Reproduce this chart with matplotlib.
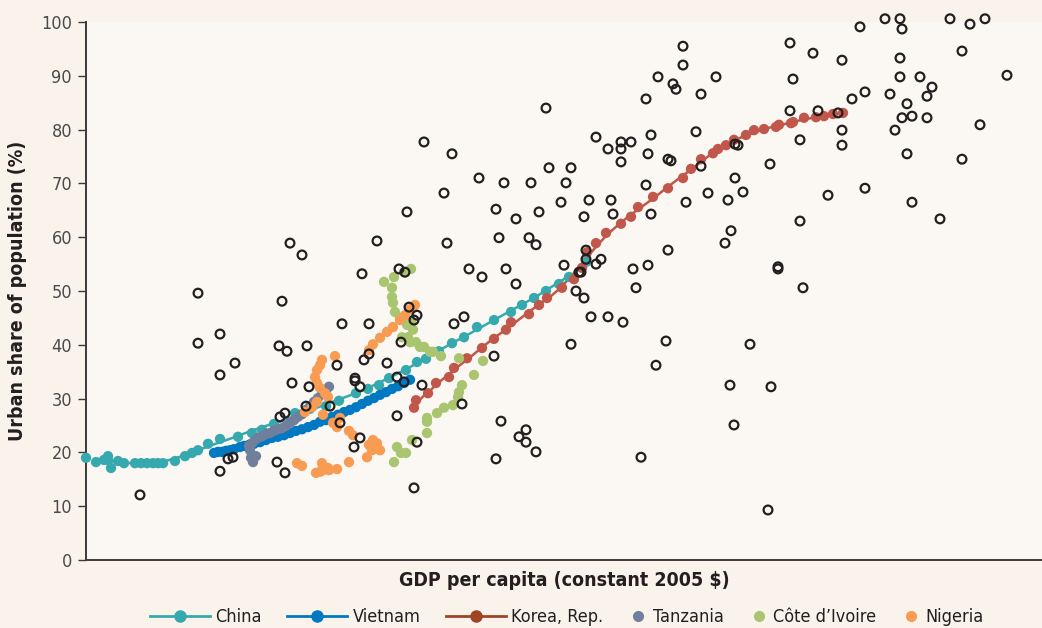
import numpy as np
import pandas as pd
import matplotlib
matplotlib.use('Agg')
import matplotlib.pyplot as plt
from matplotlib import font_manager
from matplotlib.lines import Line2D

# the original uses a condensed face; take one if the machine has it
narrow = [f for f in font_manager.fontManager.ttflist
          if str(f.stretch) in ('condensed', 'semi-condensed', 'extra-condensed')
          or 'Narrow' in f.name or 'Condensed' in f.name]
if narrow:
    plt.rcParams['font.family'] = [narrow[0].name, 'DejaVu Sans']
    plt.rcParams['font.stretch'] = narrow[0].stretch
    fs_tick, fs_lab, fs_leg = 13, 14, 13
else:
    plt.rcParams['font.family'] = ['Roboto', 'DejaVu Sans']
    fs_tick, fs_lab, fs_leg = 11.5, 12, 11.5

# x = log GDP per capita (index, the axis is unlabelled), y = urban share (%)
other_x = [5.54, 6.12, 6.12, 6.34, 6.34, 6.49, 6.34, 6.42, 6.47, 7.04, 7.16, 6.96, 6.93, 7.01, 7.21,
           7.56, 7.83, 7.06, 7.23, 7.51, 7.69, 7.69, 7.74, 7.78, 7.83, 8.01, 8.11, 8.18, 8.36, 7.44,
           7.20, 6.94, 6.99, 7.54, 8.11, 7.74, 7.68, 6.91, 6.99, 8.28, 8.15, 8.23, 8.31, 8.21, 7.91,
           7.76, 8.13, 8.19, 9.60, 8.38, 8.66, 10.10, 10.22, 10.35, 10.35, 10.45, 10.35, 10.65, 10.62, 10.82,
           10.85, 10.60, 10.72, 10.87, 10.90, 10.97, 10.97, 11.15, 11.30, 11.10, 11.15, 11.22, 11.42, 11.45, 11.39,
           11.49, 11.49, 9.63, 9.85, 9.80, 8.93, 9.18, 9.45, 8.58, 9.75, 10.03, 10.25, 10.60, 11.00, 9.10,
           9.30, 9.53, 9.98, 10.27, 10.65, 8.61, 9.13, 9.43, 9.50, 8.83, 8.96, 9.20, 9.30, 9.78, 10.00,
           10.00, 10.10, 10.15, 9.93, 9.95, 10.47, 10.62, 10.82, 10.50, 9.90, 9.98, 10.05, 10.22, 10.37, 9.85,
           10.80, 10.70, 11.44, 11.48, 8.28, 8.68, 8.78, 9.08, 8.76, 9.15, 9.40, 9.33, 9.40, 9.50, 9.10,
           10.55, 8.31, 12.74, 12.99, 13.14, 13.16, 13.64, 13.84, 13.99, 12.04, 12.27, 12.56, 13.14, 13.76, 14.21,
           12.07, 13.14, 13.34, 13.46, 13.41, 12.79, 12.66, 13.04, 13.21, 13.16, 13.26, 13.41, 13.09, 12.04, 12.32,
           12.52, 12.56, 12.56, 12.14, 11.52, 11.84, 13.21, 13.76, 13.94, 11.57, 12.42, 12.79, 13.26, 13.54, 12.14,
           11.92, 11.92, 12.17, 11.64, 11.85, 11.82]
other_y = [12.1, 49.6, 40.3, 42.0, 34.4, 36.6, 16.5, 18.8, 19.1, 58.9, 56.7, 48.1, 39.8, 38.8, 39.8,
           43.9, 43.9, 32.9, 32.2, 36.2, 33.8, 33.3, 32.2, 37.2, 38.3, 36.6, 34.0, 33.1, 32.5, 28.6,
           28.6, 26.6, 27.3, 25.5, 26.8, 22.7, 21.0, 18.2, 16.2, 13.4, 40.5, 47.0, 45.5, 64.7, 59.3,
           53.2, 54.1, 53.5, 84.0, 77.7, 75.5, 78.6, 76.4, 77.7, 76.4, 77.7, 74.0, 79.0, 75.5, 74.5,
           74.2, 85.7, 89.8, 88.5, 87.5, 95.5, 92.0, 86.6, 89.8, 79.6, 73.2, 68.2, 66.9, 61.2, 58.9,
           77.3, 71.0, 72.9, 72.9, 70.1, 71.0, 70.1, 70.1, 68.2, 66.5, 66.9, 66.9, 69.7, 66.5, 65.2,
           63.4, 64.7, 63.8, 64.3, 64.3, 58.9, 59.9, 59.9, 58.6, 54.1, 52.6, 54.1, 51.3, 54.8, 57.6,
           55.9, 55.0, 55.9, 53.5, 53.5, 54.1, 54.8, 57.6, 50.6, 50.0, 48.7, 45.2, 45.2, 44.2, 40.1,
           40.7, 36.2, 32.5, 25.1, 44.6, 43.9, 45.2, 37.9, 29.0, 25.8, 24.2, 22.9, 21.9, 20.1, 18.8,
           19.1, 21.9, 99.1, 100.6, 100.6, 98.7, 100.6, 99.6, 100.6, 96.1, 94.2, 92.9, 93.3, 94.6, 90.1,
           89.4, 89.8, 89.8, 87.9, 86.2, 87.0, 85.7, 86.6, 84.8, 82.2, 82.5, 82.2, 79.9, 83.5, 83.5,
           83.1, 79.9, 77.1, 78.1, 77.1, 73.6, 75.5, 74.5, 80.9, 68.4, 67.8, 69.1, 66.5, 63.4, 63.0,
           54.5, 54.1, 50.6, 40.1, 32.2, 9.3]

china_x = [5.00, 5.10, 5.18, 5.22, 5.22, 5.25, 5.32, 5.38, 5.49, 5.55, 5.61, 5.67, 5.72, 5.77, 5.89,
           5.99, 6.06, 6.12, 6.22, 6.34, 6.52, 6.66, 6.76, 6.88, 7.09, 7.24, 7.40, 7.53, 7.70, 7.82,
           7.93, 8.03, 8.20, 8.31, 8.40, 8.53, 8.66, 8.78, 8.91, 9.08, 9.25, 9.36, 9.48, 9.60, 9.73,
           9.83, 10.00]
china_y = [19.0, 18.2, 18.6, 18.6, 19.3, 17.1, 18.4, 18.0, 18.0, 18.0, 18.0, 18.0, 18.0, 18.0, 18.4,
           19.3, 19.9, 20.4, 21.6, 22.5, 22.9, 23.6, 24.2, 25.3, 27.3, 28.1, 28.6, 29.6, 31.0, 31.8,
           32.5, 33.8, 35.3, 36.8, 37.4, 38.8, 40.3, 41.4, 43.3, 44.6, 46.1, 47.4, 48.7, 50.0, 51.3,
           52.6, 55.4]

vietnam_x = [6.28, 6.32, 6.36, 6.40, 6.44, 6.48, 6.54, 6.58, 6.63, 6.68, 6.74, 6.80, 6.86, 6.92, 6.98,
             7.04, 7.10, 7.16, 7.22, 7.28, 7.34, 7.40, 7.46, 7.52, 7.58, 7.64, 7.70, 7.76, 7.82, 7.88,
             7.94, 8.00, 8.06, 8.12, 8.18, 8.24]
vietnam_y = [19.9, 20.1, 20.1, 20.3, 20.4, 20.6, 21.0, 21.2, 21.4, 21.6, 21.9, 22.3, 22.7, 22.9, 23.2,
             23.6, 24.0, 24.3, 24.7, 25.1, 25.7, 26.0, 26.6, 27.0, 27.5, 27.9, 28.4, 29.0, 29.6, 30.1,
             30.7, 31.2, 31.8, 32.3, 32.9, 33.5]

korea_x = [8.28, 8.30, 8.42, 8.50, 8.63, 8.68, 8.81, 8.96, 9.08, 9.20, 9.25, 9.43, 9.53, 9.61, 9.76,
           9.88, 9.96, 10.01, 10.10, 10.20, 10.35, 10.45, 10.52, 10.67, 10.82, 10.97, 11.05, 11.15, 11.27, 11.32,
           11.40, 11.48, 11.60, 11.68, 11.78, 11.90, 11.93, 12.05, 12.07, 12.18, 12.30, 12.38, 12.47, 12.57]
korea_y = [28.3, 29.7, 31.0, 32.9, 34.0, 35.7, 37.5, 39.4, 41.1, 42.8, 44.2, 45.7, 47.4, 48.7, 50.6,
           52.2, 54.3, 57.2, 58.9, 60.8, 62.5, 63.8, 65.6, 67.5, 69.1, 71.0, 72.7, 74.5, 75.6, 76.4,
           77.1, 78.1, 79.0, 79.9, 80.1, 80.5, 80.9, 81.2, 81.4, 82.2, 82.3, 82.5, 82.9, 83.1]

tanzania_x = [6.67, 6.65, 6.70, 6.64, 6.63, 6.66, 6.69, 6.72, 6.76, 6.80, 6.84, 6.88, 6.92, 6.96, 7.00,
              7.04, 7.08, 7.12, 7.16, 7.20, 7.24, 7.28, 7.32, 7.36, 7.40, 7.43]
tanzania_y = [18.2, 19.0, 19.3, 20.4, 21.2, 21.7, 22.3, 22.7, 23.0, 23.4, 23.6, 24.0, 24.3, 24.5, 24.9,
              25.5, 26.0, 26.6, 27.1, 27.9, 28.6, 29.4, 30.1, 30.9, 31.6, 32.2]

civ_x = [7.98, 8.08, 8.18, 8.25, 8.06, 8.06, 8.07, 8.09, 8.14, 8.21, 8.25, 8.27, 8.16, 8.22, 8.24,
         8.30, 8.34, 8.38, 8.44, 8.47, 8.55, 8.73, 8.97, 8.88, 8.76, 8.73, 8.72, 8.67, 8.58, 8.51,
         8.41, 8.41, 8.41, 8.26, 8.20, 8.11, 8.15, 8.08]
civ_y = [51.7, 52.6, 53.5, 54.1, 50.6, 48.9, 47.8, 46.1, 45.0, 43.7, 44.1, 42.8, 41.4, 41.4, 40.5,
         40.5, 39.6, 39.6, 38.7, 38.7, 37.9, 37.5, 37.0, 34.4, 32.5, 31.2, 30.3, 28.8, 28.3, 27.3,
         26.4, 25.7, 23.6, 22.3, 19.9, 21.0, 19.9, 18.2]

nigeria_x = [7.11, 7.16, 7.30, 7.34, 7.37, 7.42, 7.36, 7.43, 7.51, 7.63, 7.81, 7.86, 7.94, 7.91, 7.87,
             7.83, 7.67, 7.63, 7.51, 7.54, 7.47, 7.37, 7.19, 7.26, 7.31, 7.42, 7.39, 7.34, 7.31, 7.29,
             7.31, 7.34, 7.36, 7.49, 7.83, 7.87, 7.94, 8.01, 8.07, 8.14, 8.19, 8.23, 8.27, 8.29]
nigeria_y = [18.0, 17.5, 16.2, 16.4, 16.7, 17.1, 18.0, 16.7, 16.9, 18.2, 19.1, 20.4, 20.4, 21.7, 22.3,
             21.4, 23.2, 24.0, 24.7, 26.4, 25.5, 27.0, 27.5, 28.4, 29.4, 30.3, 31.0, 32.0, 32.9, 34.0,
             35.3, 36.2, 37.2, 37.9, 39.0, 40.1, 41.3, 42.4, 43.3, 44.6, 45.5, 46.5, 47.0, 47.4]

labels = ['China', 'Vietnam', 'Korea, Rep.', 'Tanzania', "Côte d\u2019Ivoire", 'Nigeria']

c_china = '#36A9AE'
c_vietnam = '#0079C2'
c_korea = '#C0574A'
c_tanzania = '#6F7F9C'
c_civ = '#A9C56F'
c_nigeria = '#F89B53'


def smooth(x, y, w):
    s = pd.DataFrame({'x': x, 'y': y}).sort_values('x')
    return (s['x'].rolling(w, center=True, min_periods=1).mean(),
            s['y'].rolling(w, center=True, min_periods=1).mean())


W, H = 1042, 628
fig = plt.figure(figsize=(W / 100, H / 100), dpi=100, facecolor='#FAF3EC')
ax = fig.add_axes([86 / W, 1 - 560 / H, (W - 86) / W, (560 - 22) / H])
ax.set_facecolor('#FBF7F2')

dot = 55
for xs, ys, c, w in [(china_x, china_y, c_china, 7), (vietnam_x, vietnam_y, c_vietnam, 5),
                     (korea_x, korea_y, c_korea, 5)]:
    lx, ly = smooth(xs, ys, w)
    ax.plot(lx, ly, color=c, lw=1.8, zorder=2)
    ax.scatter(xs, ys, s=dot, color=c, edgecolors='none', zorder=3, clip_on=False)

ax.scatter(tanzania_x, tanzania_y, s=dot, color=c_tanzania, edgecolors='none', zorder=4)
ax.scatter(civ_x, civ_y, s=dot, color=c_civ, edgecolors='none', zorder=4)
ax.scatter(nigeria_x, nigeria_y, s=dot, color=c_nigeria, edgecolors='none', zorder=5)

ax.scatter(other_x, other_y, s=40, facecolors='none', edgecolors='#231F20', linewidths=1.6,
           zorder=6, clip_on=False)

ax.set_xlim(5.0, 14.56)
ax.set_ylim(0, 100)
ax.set_yticks(range(0, 101, 10))
ax.set_xticks([])
for side in ['top', 'right']:
    ax.spines[side].set_visible(False)
for side in ['left', 'bottom']:
    ax.spines[side].set_color('#3A3A3A')
    ax.spines[side].set_linewidth(1.4)
ax.tick_params(axis='y', length=6, width=1, color='#3A3A3A', labelsize=fs_tick,
               labelcolor='#4A4A4A', pad=4)

ax.set_ylabel('Urban share of population (%)', fontsize=fs_lab, fontweight='bold',
              color='#231F20', labelpad=10)
ax.set_xlabel('GDP per capita (constant 2005 $)', fontsize=fs_lab, fontweight='bold',
              color='#231F20', labelpad=8)

# legend: one small legend per entry so dot-only keys stay compact,
# then lay them out in a row centred under the plot
handles = [
    Line2D([], [], color=c_china, marker='o', markersize=8, lw=2),
    Line2D([], [], color=c_vietnam, marker='o', markersize=8, lw=2),
    Line2D([], [], color='#9E4526', marker='o', markersize=8, lw=2),
    Line2D([], [], color=c_tanzania, marker='o', markersize=7, ls='none'),
    Line2D([], [], color=c_civ, marker='o', markersize=7, ls='none'),
    Line2D([], [], color=c_nigeria, marker='o', markersize=7, ls='none'),
]
hlens = [3.3, 3.3, 3.3, 1.0, 1.0, 1.0]
legs = []
for h, lab, hl in zip(handles, labels, hlens):
    legs.append(fig.legend([h], [lab], loc='center left', bbox_to_anchor=(0, 1 - 617 / H),
                           frameon=False, fontsize=fs_leg, handlelength=hl, handletextpad=0.3,
                           borderpad=0, borderaxespad=0, labelcolor='#231F20'))
fig.canvas.draw()
widths = [lg.get_window_extent().width for lg in legs]
gap = 26
x0 = 567 - (sum(widths) + gap * (len(legs) - 1)) / 2
for lg, wd in zip(legs, widths):
    lg.set_bbox_to_anchor((x0 / W, 1 - 617 / H), transform=fig.transFigure)
    x0 += wd + gap

fig.savefig('out.png', dpi=100, facecolor=fig.get_facecolor())
